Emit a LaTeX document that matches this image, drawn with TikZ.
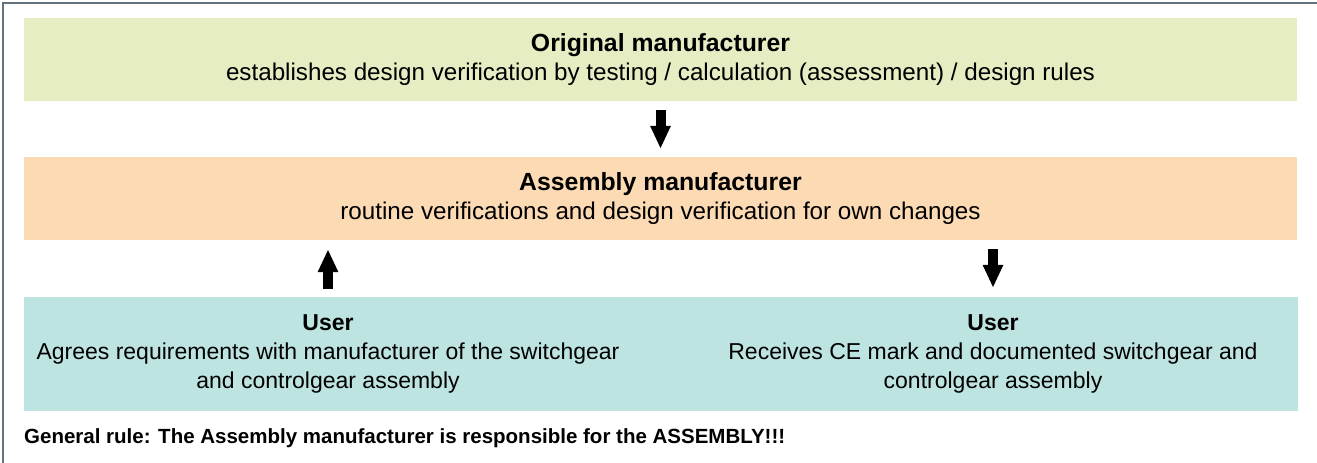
\documentclass[tikz,border=0pt]{standalone}
\usepackage{fontspec}
\setmainfont{Liberation Sans}
\usetikzlibrary{arrows.meta}
\definecolor{boxgreen}{RGB}{230,237,194}
\definecolor{boxorange}{RGB}{252,218,180}
\definecolor{boxteal}{RGB}{189,228,225}
\definecolor{framegray}{RGB}{100,114,126}
\tikzset{
  box/.style={draw=none, inner sep=0pt, minimum width=1273pt, align=center,
    font=\fontsize{24.2}{28.5}\selectfont},
  txt/.style={inner sep=0pt, align=center, font=\fontsize{23}{29}\selectfont},
  bigarrow/.style={line width=10pt, -{Triangle[width=19pt,length=23pt]}},
}
\begin{document}
\begin{tikzpicture}[x=1pt,y=-1pt]
\useasboundingbox (0,0) rectangle (1317,463);
\draw[framegray, line width=1.6pt] (3,463) -- (3,3) -- (1317,3);
\node[box, fill=boxgreen, minimum height=83pt] (orig) at (660.5,59.5)
  {{\fontsize{24.8}{28.5}\selectfont\textbf{Original manufacturer}}\\establishes design verification by testing / calculation (assessment) / design rules};
\node[box, fill=boxorange, minimum height=83pt] (asm) at (660.5,198.5)
  {{\fontsize{24.8}{28.5}\selectfont\textbf{Assembly manufacturer}}\\routine verifications and design verification for own changes};
\node[box, fill=boxteal, minimum height=114pt, minimum width=1274pt] (userbox) at (661,354) {};
\node[txt] (userL) at (328,354)
  {\textbf{User}\\Agrees requirements with manufacturer of the switchgear\\and controlgear assembly};
\node[txt] (userR) at (993,354)
  {\textbf{User}\\Receives CE mark and documented switchgear and\\controlgear assembly};
\node[txt, anchor=west, font=\fontsize{20.5}{24}\selectfont] (rule) at (24,438)
  {\textbf{General rule: The Assembly manufacturer is responsible for the ASSEMBLY!!!}};
\draw[bigarrow, shorten <=9pt, shorten >=8pt] (orig.south) -- (asm.north);
\draw[bigarrow, shorten <=8pt, shorten >=9pt] (userbox.north -| userL) -- (asm.south -| userL);
\draw[bigarrow, shorten <=9pt, shorten >=9pt] (asm.south -| userR) -- (userbox.north -| userR);
\end{tikzpicture}
\end{document}
